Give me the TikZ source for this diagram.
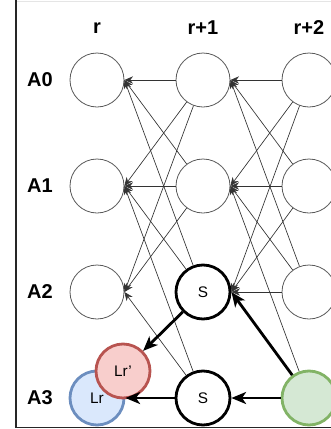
\documentclass[tikz,border=0pt]{standalone}
\usepackage{fontspec}
\setmainfont{Liberation Sans}
\usetikzlibrary{arrows.meta}

\definecolor{bluefill}{HTML}{DAE8FC}
\definecolor{blueline}{HTML}{6C8EBF}
\definecolor{redfill}{HTML}{F8CECC}
\definecolor{redline}{HTML}{B85450}
\definecolor{greenfill}{HTML}{D5E8D4}
\definecolor{greenline}{HTML}{82B366}

\tikzset{
	state/.style={circle,draw=black!65,line width=0.6pt,fill=white,minimum size=40.5pt,inner sep=0pt,font=\fontsize{11.5}{13}\selectfont},
	heavy/.style={state,draw=black,line width=2.1pt},
	lab/.style={font=\fontsize{15}{17}\selectfont\bfseries},
	link/.style={-{Stealth[length=6.5pt,width=5.5pt]},draw=black!80,line width=0.5pt},
	bold/.style={-{Stealth[length=11pt,width=9pt,inset=3pt]},line width=2.1pt}
}

\begin{document}
\begin{tikzpicture}[x=0.75pt,y=-0.75pt]
	\useasboundingbox (0,0) rectangle (331,429);

	% frame
	\draw[black!10,line width=0.75pt] (17,1.5) -- (331,1.5);
	\draw[black!85,line width=1.2pt] (16,0) -- (16,427.5) -- (331,427.5);

	% headers
	\node (hr) at (97,28) [lab] {r};
	\node (hr1) at (203,28) [lab] {r+1};
	\node (hr2) at (309,28) [lab] {r+2};

	\node (la0) at (40,80) [lab] {A0};
	\node (la1) at (40,186) [lab] {A1};
	\node (la2) at (40,292) [lab] {A2};
	\node (la3) at (40,398) [lab] {A3};

	% column r
	\node (r0) at (97,80) [state] {};
	\node (r1) at (97,186) [state] {};
	\node (r2) at (97,292) [state] {};
	\node (lr) at (97,398) [state,draw=blueline,fill=bluefill,line width=2.1pt] {Lr};
	\node (lrp) at (123,371) [state,draw=redline,fill=redfill,line width=2.1pt] {Lr\char39};

	% column r+1
	\node (p0) at (203,80) [state] {};
	\node (p1) at (203,186) [state] {};
	\node (s2) at (203,292) [heavy] {S};
	\node (s3) at (203,398) [heavy] {S};

	% column r+2
	\node (q0) at (309,80) [state] {};
	\node (q1) at (309,186) [state] {};
	\node (q2) at (309,292) [state] {};
	\node (g3) at (309,398) [state,draw=greenline,fill=greenfill,line width=2.1pt] {};

	% r+1 -> r
	\draw[link] (p0) -- (r0.east);
	\draw[link] (p0) -- (r1.east);
	\draw[link] (p0) -- (r2.east);
	\draw[link] (p1) -- (r0.east);
	\draw[link] (p1) -- (r1.east);
	\draw[link] (p1) -- (r2.east);
	\draw[link] (s2) -- (r0.east);
	\draw[link] (s2) -- (r1.east);
	\draw[link] (s3) -- (r1.east);
	\draw[link] (s3) -- (r2.east);

	% r+2 -> r+1
	\draw[link] (q0) -- (p0.east);
	\draw[link] (q0) -- (p1.east);
	\draw[link] (q0) -- (s2.east);
	\draw[link] (q1) -- (p0.east);
	\draw[link] (q1) -- (p1.east);
	\draw[link] (q1) -- (s2.east);
	\draw[link] (q2) -- (p0.east);
	\draw[link] (q2) -- (p1.east);
	\draw[link] (q2) -- (s2.east);
	\draw[link] (g3) -- (p1.east);

	% path through S
	\draw[bold] (g3) -- (s2.east);
	\draw[bold] (g3) -- (s3.east);
	\draw[bold] (s2) -- (lrp.north east);
	\draw[bold] (s3) -- (lr.east);
\end{tikzpicture}
\end{document}
